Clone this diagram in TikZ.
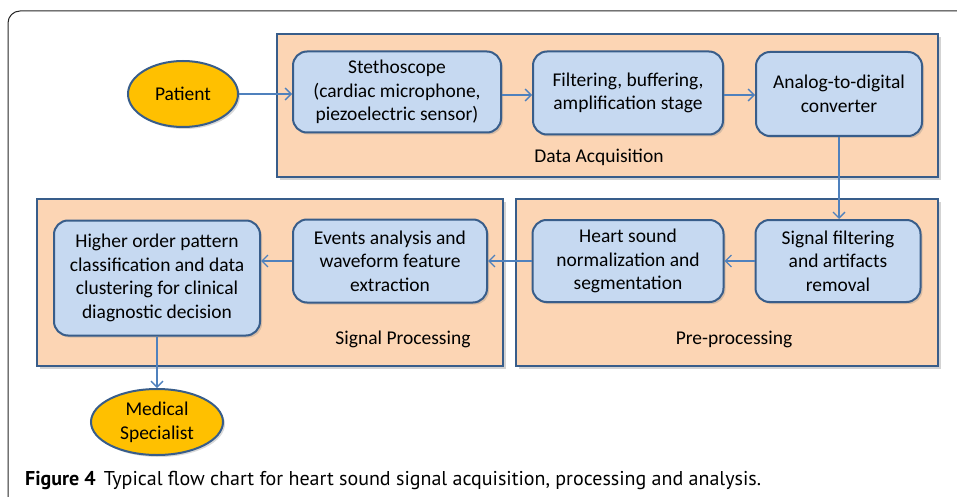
\documentclass[tikz,border=0pt]{standalone}
\usepackage{fontspec}
\setmainfont{Carlito}
\newfontfamily\capfont{PT Sans}
\usetikzlibrary{arrows.meta,shapes.geometric,shadows}
\definecolor{bordc}{HTML}{385D8A}
\definecolor{boxfill}{HTML}{C6D9F1}
\definecolor{panelfill}{HTML}{FCD5B4}
\definecolor{arrc}{HTML}{4F81BD}
\definecolor{ellfill}{HTML}{FFC000}
\tikzset{
  panel/.style={draw=bordc, line width=2.5pt, fill=panelfill,
    drop shadow={opacity=0.35, shadow xshift=3pt, shadow yshift=-3pt}},
  box/.style={draw=bordc, line width=2pt, fill=boxfill, rounded corners=14pt,
    align=center, inner sep=0pt, font=\fontsize{19.5}{23.5}\selectfont,
    drop shadow={opacity=0.3, shadow xshift=2pt, shadow yshift=-2pt}},
  oval/.style={ellipse, draw=bordc, line width=2pt, fill=ellfill, align=center,
    inner sep=0pt, font=\fontsize{19.5}{24}\selectfont,
    drop shadow={opacity=0.3, shadow xshift=2pt, shadow yshift=-2pt}},
  plabel/.style={font=\fontsize{19.5}{23.5}\selectfont, inner sep=0pt},
  arr/.style={draw=arrc, line width=1.3pt, -{Straight Barb[length=6pt,width=12pt]}}
}
\begin{document}
\begin{tikzpicture}[x=1pt,y=-1pt]
\useasboundingbox (0,0) rectangle (957,497);
% outer frame
\draw[line width=1pt, black!85, rounded corners=12pt] (8,497) -- (8,11) -- (957,11);
% panels
\path[panel] (277,34) rectangle (938,177);
\path[panel] (37,199) rectangle (503,366);
\path[panel] (516,199) rectangle (938,366);
\node[plabel] (lda) at (599,157) {Data Acquisition};
\node[plabel] (lpp) at (734,339) {Pre-processing};
\node[plabel] (lsp) at (403,339) {Signal Processing};
% ellipses
\node[oval, minimum width=110pt, minimum height=66pt] (pat) at (183,94) {Patient};
\node[oval, minimum width=132pt, minimum height=66pt] (med) at (157,422) {Medical\\Specialist};
% boxes
\node[box, minimum width=208pt, minimum height=81pt] (ste) at (397,92) {Stethoscope\\(cardiac microphone,\\piezoelectric sensor)};
\node[box, minimum width=190pt, minimum height=83pt] (fil) at (628,93) {Filtering, buffering,\\amplification stage};
\node[box, minimum width=166pt, minimum height=84pt] (adc) at (839,94) {Analog-to-digital\\converter};
\node[box, minimum width=165pt, minimum height=82pt] (sf) at (838,261) {Signal filtering\\and artifacts\\removal};
\node[box, minimum width=191pt, minimum height=82pt] (hs) at (628,261) {Heart sound\\normalization and\\segmentation};
\node[box, minimum width=194pt, minimum height=83pt] (ev) at (390,261) {Events analysis and\\waveform feature\\extraction};
\node[box, minimum width=206pt, minimum height=115pt] (ho) at (157,278) {Higher order pattern\\classification and data\\clustering for clinical\\diagnostic decision};
% arrows
\draw[arr] (pat.east) -- (ste.west |- pat.east);
\draw[arr] (ste.east |- 0,95) -- (fil.west |- 0,95);
\draw[arr] (fil.east |- 0,95) -- (adc.west |- 0,95);
\draw[arr] (adc.south) -- (adc.south |- sf.north);
\draw[arr] (sf.west) -- (hs.east);
\draw[arr] (hs.west) -- (ev.east);
\draw[arr] (ev.west) -- (ho.east |- ev.west);
\draw[arr] (ho.south) -- (med.north);
% caption
\node[anchor=base west, inner sep=0pt, font=\capfont\fontsize{20}{24}\selectfont] (cap) at (25,485)
  {\textbf{Figure 4}\hspace{8pt}Typical flow chart for heart sound signal acquisition, processing and analysis.};
\end{tikzpicture}
\end{document}
